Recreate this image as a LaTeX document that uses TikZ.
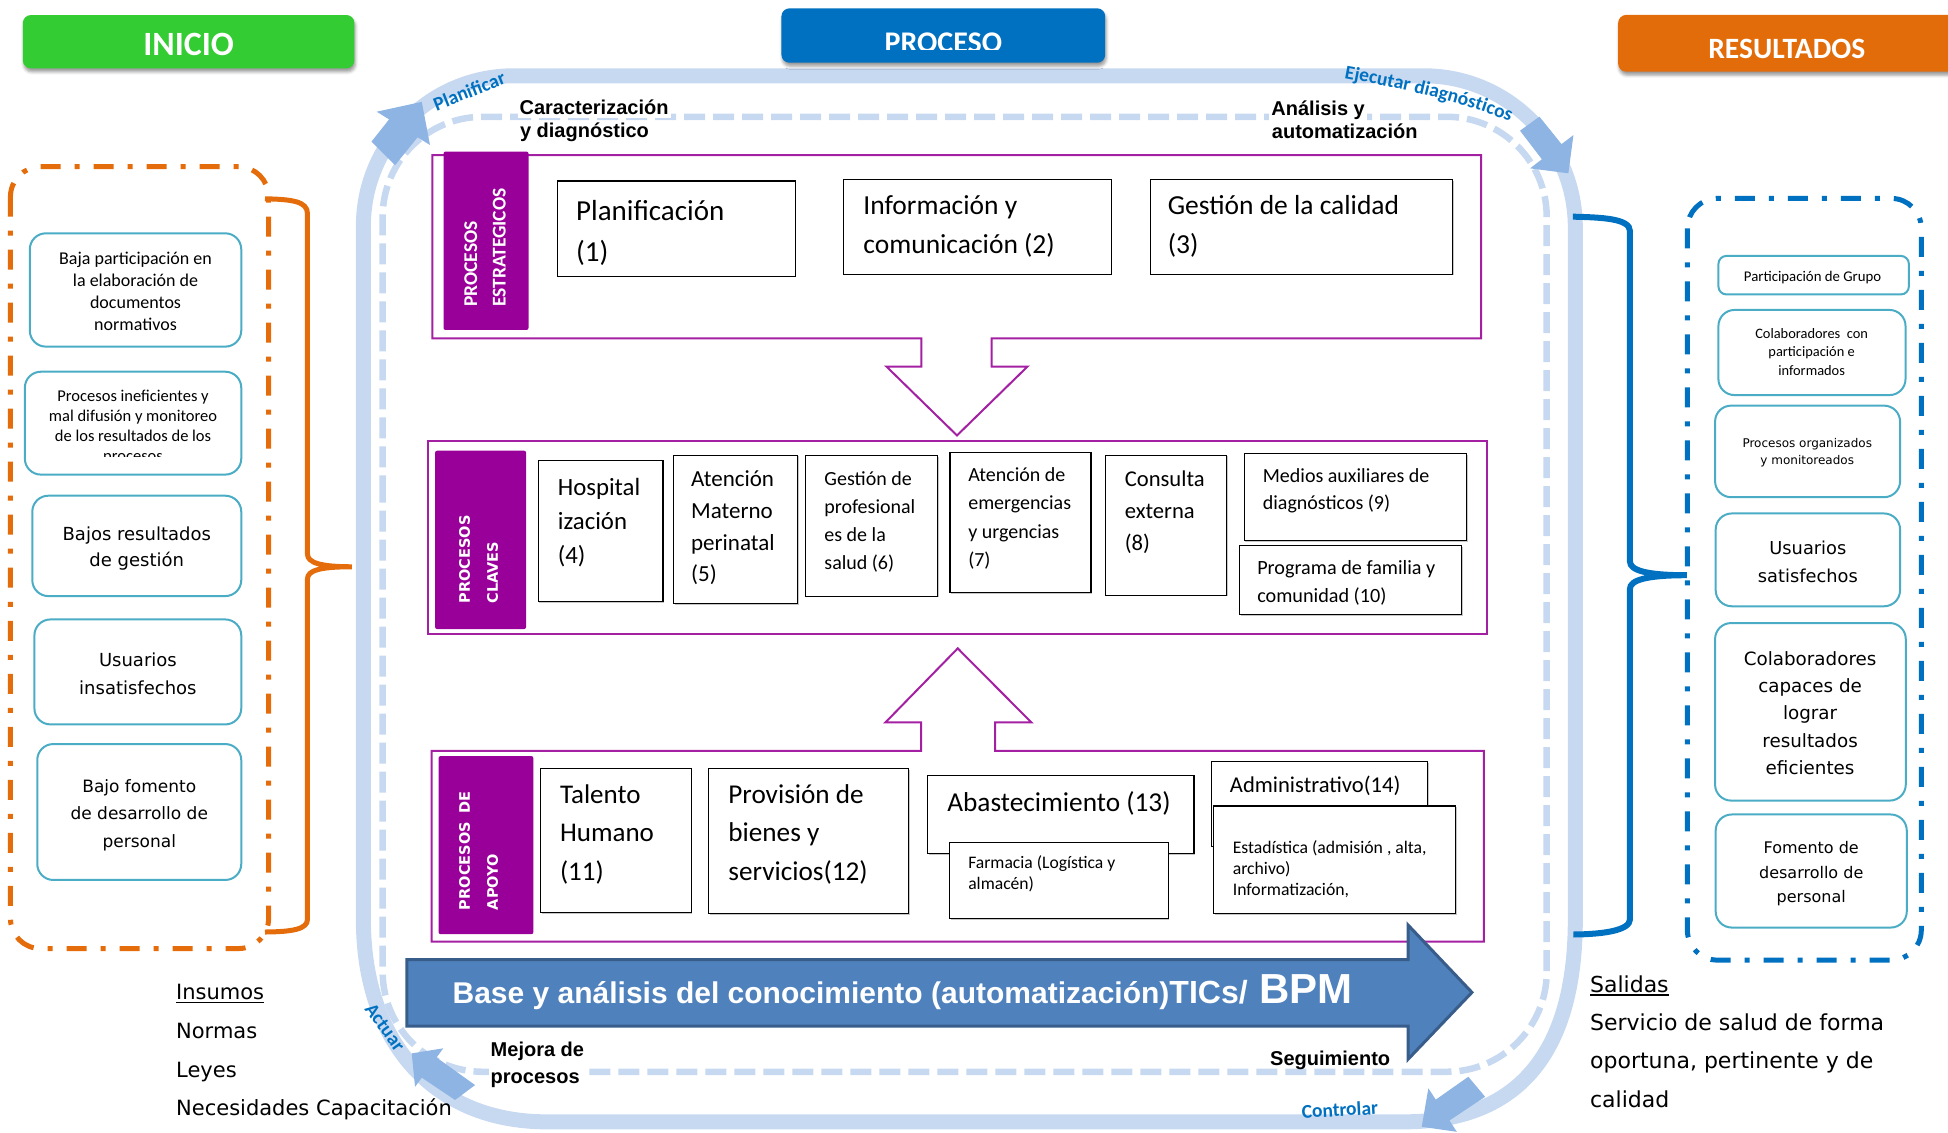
\documentclass[tikz,border=0pt]{standalone}
\usepackage{fontspec}
\setmainfont{Carlito}
\newfontfamily\arialf{Liberation Sans}
\newfontfamily\verdf{DejaVu Sans}
\usetikzlibrary{shadows,shadows.blur,decorations.text}

\definecolor{bandc}{RGB}{198,217,241}
\definecolor{headc}{RGB}{141,180,226}
\definecolor{lblue}{RGB}{0,112,192}
\definecolor{inig}{RGB}{51,204,51}
\definecolor{reso}{RGB}{227,108,10}
\definecolor{purp}{RGB}{153,0,153}
\definecolor{panelc}{RGB}{163,32,163}
\definecolor{tealc}{RGB}{75,172,198}
\definecolor{orangec}{RGB}{228,108,10}
\definecolor{arrowf}{RGB}{79,129,189}
\definecolor{arrowd}{RGB}{56,93,138}

% stacked lines: first line's baseline is the box baseline
\newcommand\lstack[1]{\vtop{\let\\\cr\halign{##\hfil\cr#1\crcr}}}
\newcommand\cstack[1]{\vtop{\let\\\cr\halign{\hfil##\hfil\cr#1\crcr}}}
\newcommand\undl[1]{\setbox0=\hbox{#1}\rlap{\rule[-3.5pt]{\wd0}{1.6pt}}\box0}
\newcommand\fsz[2]{\fontsize{#1}{#2}\selectfont}

\begin{document}
\begin{tikzpicture}[x=1.2423pt,y=-1.2423pt,
  every node/.style={inner sep=0pt,outer sep=0pt},
  procbox/.style={draw=black,line width=1.1pt,fill=white,
    drop shadow={shadow xshift=1.3pt,shadow yshift=-1.3pt,opacity=0.45}},
  panel/.style={draw=panelc,line width=2pt},
  plabel/.style={fill=purp,rounded corners=2pt},
  tealbox/.style={draw=tealc,line width=2pt,rounded corners=16pt,fill=white},
  header/.style={rounded corners=8pt,
    blur shadow={shadow xshift=1pt,shadow yshift=-3.5pt,shadow blur radius=3pt,shadow opacity=40}},
  cyclelabel/.style={text=lblue,font=\bfseries\fsz{19.5}{20}},
  cornertext/.style={anchor=base west,font=\arialf\bfseries\fsz{20}{23}},
  listtext/.style={anchor=base west,font=\verdf\fsz{21}{24}},
  dashdot/.style={line width=5pt,dash pattern=on 20pt off 14pt on 5pt off 14pt,rounded corners=30pt}
]
\useasboundingbox (0,0) rectangle (1568,911.2);

% ---- improvement cycle: outer band ----
\draw[bandc,line width=15pt]
  (292.5,182) .. controls (292.5,115.2) and (346.7,61) .. (413.5,61)
  -- (1146,61) .. controls (1213.4,61) and (1268,115.6) .. (1268,183)
  -- (1268,740) .. controls (1268,850) and (1220,903) .. (1130,903)
  -- (440,903) .. controls (350,903) and (292.5,840) .. (292.5,740) -- cycle;
% inner dashed loop
\draw[bandc,line width=6.5pt,dash pattern=on 21pt off 8pt,rounded corners=100pt]
  (308,480) -- (308,94) -- (1245,94) -- (1245,862.7) -- (308,862.7) -- cycle;
% arrow heads on the band
\fill[headc] (339.5,82) -- (346.1,116.7) -- (336.1,110.5) -- (318,133) -- (299,114) -- (313.2,96.1) -- (303.2,89.9) -- cycle;
\fill[headc] (1262.4,139.5) -- (1231.6,135.5) -- (1241.1,128.2) -- (1223.5,105.2) -- (1239.1,93.9) -- (1256.9,116) -- (1266.5,108.7) -- cycle;
\fill[headc] (1144.4,907) -- (1149.7,876) -- (1155.7,885.1) -- (1181.9,866.7) -- (1195.4,882.8) -- (1166.7,901.9) -- (1172.6,911) -- cycle;
\fill[headc] (331.4,847.9) -- (356.8,843.8) -- (351.4,851.2) -- (382.4,873.4) -- (366.3,885.4) -- (339.5,867.4) -- (334.1,874.8) -- cycle;
% cycle labels
\node[cyclelabel,rotate=21.6,anchor=base] (lplan) at (379.7,78.2) {Planificar};
\path[decorate,decoration={text along path,
  text={|\bfseries\fsz{19.5}{20}\color{lblue}|Ejecutar diagnósticos}}]
  (1082,63) .. controls (1130,72) and (1180,82) .. (1230,104);
\node[cyclelabel,rotate=-54,anchor=center] (lact) at (309.9,827) {Actuar};
\node[cyclelabel,rotate=3,anchor=base] (lctrl) at (1078.7,898.4) {Controlar};

% ---- headers ----
\fill[inig,header] (18.4,12.1) rectangle (285.3,55);
\node[anchor=base,text=white,font=\bfseries\fsz{34}{36}] (hinicio) at (151.8,44.3) {INICIO};
\fill[lblue,header] (629,6.7) rectangle (889.6,50.5);
\begin{scope}
  \clip (620,0) rectangle (900,39.7);
  \node[anchor=base,text=white,font=\bfseries\fsz{30}{32}] (hproceso) at (759.3,42.2) {PROCESO};
\end{scope}
\fill[reso,header] (1302.5,12) rectangle (1600,57.7);
\node[anchor=base,text=white,font=\bfseries\fsz{29.5}{32}] (hresult) at (1438.2,47) {RESULTADOS};

% ---- process panels ----
\draw[panel] (348,124.8) -- (1192.1,124.8) -- (1192.1,272.4) -- (798.1,272.4) -- (798.1,295.2)
  -- (826.9,295.2) -- (770.3,350.5) -- (713.7,295.2) -- (741.7,295.2) -- (741.7,272.4) -- (348,272.4) -- cycle;
\draw[panel] (344.6,354.7) rectangle (1197,510.4);
\draw[panel] (347.4,604.3) -- (741.5,604.3) -- (741.5,581.5) -- (712.7,581.5) -- (770.9,521.9)
  -- (830.2,581.5) -- (800.9,581.5) -- (800.9,604.3) -- (1194.4,604.3) -- (1194.4,758) -- (347.4,758) -- cycle;

% panel labels
\fill[plabel] (357,122) rectangle (425.4,265.6);
\node[rotate=90,anchor=base west,text=white,font=\bfseries\fsz{19.5}{28.6}] (lest) at (384,247) {\lstack{PROCESOS\\ESTRATEGICOS}};
\fill[plabel] (350.2,362.8) rectangle (423.5,506.3);
\node[rotate=90,anchor=base west,text=white,font=\verdf\bfseries\fsz{14.5}{28}] (lcla) at (378.3,485.7) {\lstack{PROCESOS\\CLAVES}};
\fill[plabel] (353,608.6) rectangle (429.3,751.9);
\node[rotate=90,anchor=base west,text=white,font=\verdf\bfseries\fsz{14.5}{28}] (lapo) at (378.3,732.5) {\lstack{PROCESOS\hspace{0.6em}DE\\APOYO}};

% strategic processes
\draw[procbox] (448.8,145.7) rectangle (640,222.2);
\node[anchor=base west,font=\fsz{29}{41.7}] (p1) at (463.8,177.1) {\lstack{Planificación\\(1)}};
\draw[procbox] (678.8,144.3) rectangle (894.4,220.6);
\node[anchor=base west,font=\fsz{27.5}{38.3}] (p2) at (695,173) {\lstack{Información y\\comunicación (2)}};
\draw[procbox] (925.7,144.3) rectangle (1169.5,220.6);
\node[anchor=base west,font=\fsz{27.5}{38.3}] (p3) at (940,173) {\lstack{Gestión de la calidad\\(3)}};

% key processes
\draw[procbox] (433.2,371) rectangle (533.7,484.3);
\node[anchor=base west,font=\fsz{24.8}{34}] (p4) at (449,398.5) {\lstack{Hospital\\ización\\(4)}};
\draw[procbox] (542.2,366.3) rectangle (642.1,485.6);
\node[anchor=base west,font=\fsz{23}{31.7}] (p5) at (556.3,391.7) {\lstack{Atención\\Materno\\perinatal\\(5)}};
\draw[procbox] (648.4,366.8) rectangle (754.6,479.8);
\node[anchor=base west,font=\fsz{20}{28}] (p6) at (663.6,390.4) {\lstack{Gestión de\\profesional\\es de la\\salud (6)}};
\draw[procbox] (764.7,364.1) rectangle (878.2,477.1);
\node[anchor=base west,font=\fsz{20}{28.3}] (p7) at (779.4,387.7) {\lstack{Atención de\\emergencias\\y urgencias\\(7)}};
\draw[procbox] (890,366.3) rectangle (987.2,479);
\node[anchor=base west,font=\fsz{22.6}{32.3}] (p8) at (905.4,391.2) {\lstack{Consulta\\externa\\(8)}};
\draw[procbox] (1001.4,364.9) rectangle (1180.2,435.2);
\node[anchor=base west,font=\fsz{20}{27.3}] (p9) at (1016.5,388.5) {\lstack{Medios auxiliares de\\diagnósticos (9)}};
\draw[procbox] (997.9,439.2) rectangle (1176.4,494.5);
\node[anchor=base west,font=\fsz{20.2}{27.7}] (p10) at (1012,462.8) {\lstack{Programa de familia y\\comunidad (10)}};

% support processes
\draw[procbox] (434.9,618.5) rectangle (556.3,734.7);
\node[anchor=base west,font=\fsz{27}{38.3}] (p11) at (450.8,646.7) {\lstack{Talento\\Humano\\(11)}};
\draw[procbox] (570.5,618.5) rectangle (731.4,735.2);
\node[anchor=base west,font=\fsz{27.2}{38.5}] (p12) at (586.3,646.7) {\lstack{Provisión de\\bienes y\\servicios(12)}};
\draw[procbox] (746.6,623.9) rectangle (961.1,686.9);
\node[anchor=base west,font=\fsz{27.3}{30}] (p13) at (762.5,653.4) {Abastecimiento (13)};
\draw[procbox] (764.1,678.3) rectangle (940.3,739.2);
\node[anchor=base west,font=\fsz{17.6}{20.7}] (pfar) at (779.4,699) {\lstack{Farmacia (Logística y\\almacén)}};
\draw[procbox] (975.3,613.1) rectangle (1149.3,681.5);
\node[anchor=base west,font=\fsz{22.6}{26}] (p14) at (990,638) {Administrativo(14)};
\draw[procbox] (977,648.8) rectangle (1171.8,735.2);
\node[anchor=base west,font=\fsz{17.7}{21.2}] (pest) at (992.3,687) {\lstack{Estadística (admisión , alta,\\archivo)\\Informatización,}};

% ---- stage texts on the dashed loop ----
\node[cornertext,fill=white,inner xsep=2pt,inner ysep=4pt] (car1) at (416.6,91.8) {Caracterización};
\node[cornertext] (car2) at (418.6,110.5) {y diagnóstico};
\node[cornertext,fill=white,inner xsep=2pt,inner ysep=4pt] (ana1) at (1021.8,92.6) {Análisis y};
\node[cornertext] (ana2) at (1023.8,111.4) {automatización};
\node[cornertext,fill=white,inner xsep=2pt,inner ysep=3pt,font=\arialf\bfseries\fsz{20}{26.6}] (mej) at (393.4,850.6) {\lstack{Mejora de\\procesos}};
\node[cornertext] (seg) at (1022.4,857.3) {Seguimiento};

% ---- knowledge base arrow ----
\draw[fill=arrowf,draw=arrowd,line width=3pt] (327.6,772.5) -- (1133.4,772.5) -- (1133.4,744.6)
  -- (1184.8,798.8) -- (1133.4,852.6) -- (1133.4,826) -- (327.6,826) -- cycle;
\node[anchor=base west,text=white,font=\arialf\bfseries] (kb) at (364.3,807.6)
  {\fsz{30}{32}Base y análisis del conocimiento (automatización)\fsz{32}{34}TICs/\fsz{42}{44} BPM};

% ---- inputs ----
\draw[orangec,dashdot] (8.4,134.2) rectangle (216.2,763.5);
\draw[orangec,line width=5pt] (213.3,160) .. controls (235,160.5) and (247.5,162) .. (247.5,172)
  -- (247.5,446) .. controls (247.5,453) and (258,456.2) .. (283.3,456.2)
  .. controls (258,456.2) and (247.5,459) .. (247.5,466)
  -- (247.5,740) .. controls (247.5,748) and (235,750) .. (213.3,750.2);
\draw[tealbox] (24,187.8) rectangle (194.2,279);
\node[anchor=base,font=\fsz{18}{21.7}] (in1) at (109.1,213.3) {\cstack{Baja participación en\\la elaboración de\\documentos\\normativos}};
\draw[tealbox] (20,299.2) rectangle (194.2,382);
\begin{scope}
  \clip (20,299.2) rectangle (194.2,367.5);
  \node[anchor=base,font=\fsz{16.5}{20}] (in2) at (107.1,322.8) {\cstack{Procesos ineficientes y\\mal difusión y monitoreo\\de los resultados de los\\procesos}};
\end{scope}
\draw[tealbox] (26,399) rectangle (194.2,479.8);
\node[anchor=base,font=\verdf\fsz{18}{26.6}] (in3) at (110.1,434.7) {\cstack{Bajos resultados\\de gestión}};
\draw[tealbox] (27.7,498.6) rectangle (194.2,583.1);
\node[anchor=base,font=\verdf\fsz{18}{28}] (in4) at (111,536.1) {\cstack{Usuarios\\insatisfechos}};
\draw[tealbox] (30,598.9) rectangle (194.2,708.3);
\node[anchor=base,font=\verdf\fsz{17}{27.5}] (in5) at (112.1,637.5) {\cstack{Bajo fomento\\de desarrollo de\\personal}};

% ---- results ----
\draw[lblue,dashdot] (1358.2,159.7) rectangle (1546.5,772.8);
\draw[lblue,line width=6pt] (1266,174.4) .. controls (1290,175) and (1312,176) .. (1312,186)
  -- (1312,452) .. controls (1312,459) and (1325,463) .. (1357.7,463)
  .. controls (1325,463) and (1312,467) .. (1312,474)
  -- (1312,740) .. controls (1312,749) and (1290,752) .. (1266.5,752.2);
\draw[tealbox,rounded corners=8pt] (1383.2,206) rectangle (1536.5,237);
\begin{scope}
  \clip (1383,206) rectangle (1537,228.3);
  \node[anchor=base,font=\fsz{14.8}{18}] (out1) at (1459,226.7) {Participación de Grupo};
\end{scope}
\draw[tealbox] (1383.2,249.5) rectangle (1533.8,318);
\node[anchor=base,font=\fsz{14.4}{18.5}] (out2) at (1458.2,272.3) {\cstack{Colaboradores\ \ con\\participación e\\informados}};
\draw[tealbox] (1380.5,326.5) rectangle (1529.4,400.2);
\node[anchor=base,font=\verdf\fsz{12}{16.8}] (out3) at (1454.7,360.3) {\cstack{Procesos organizados\\y monitoreados}};
\draw[tealbox] (1381,413.3) rectangle (1529.4,488);
\node[anchor=base,font=\verdf\fsz{17.8}{28}] (out4) at (1455.2,446) {\cstack{Usuarios\\satisfechos}};
\draw[tealbox] (1380.5,501.5) rectangle (1534,644.4);
\node[anchor=base,font=\verdf\fsz{18.3}{27.4}] (out5) at (1457,535.4) {\cstack{Colaboradores\\capaces de\\lograr\\resultados\\eficientes}};
\draw[tealbox] (1381,655.6) rectangle (1534.8,746.6);
\node[anchor=base,font=\verdf\fsz{16}{24.5}] (out6) at (1457.9,687.2) {\cstack{Fomento de\\desarrollo de\\personal}};

% ---- inputs / outputs lists ----
\node[listtext] (ins0) at (141.8,804.8) {\undl{Insumos}};
\node[listtext] (ins1) at (141.8,835.9) {Normas};
\node[listtext] (ins2) at (141.8,866.9) {Leyes};
\node[listtext] (ins3) at (141.8,898) {Necesidades Capacitación};
\node[listtext,font=\verdf\fsz{22}{24}] (sal0) at (1279.9,798.5) {\undl{Salidas}};
\node[listtext,font=\verdf\fsz{22}{24}] (sal1) at (1279.9,829.4) {Servicio de salud de forma};
\node[listtext,font=\verdf\fsz{22}{24}] (sal2) at (1279.9,860.3) {oportuna, pertinente y de};
\node[listtext,font=\verdf\fsz{22}{24}] (sal3) at (1279.9,891.2) {calidad};
\end{tikzpicture}
\end{document}
